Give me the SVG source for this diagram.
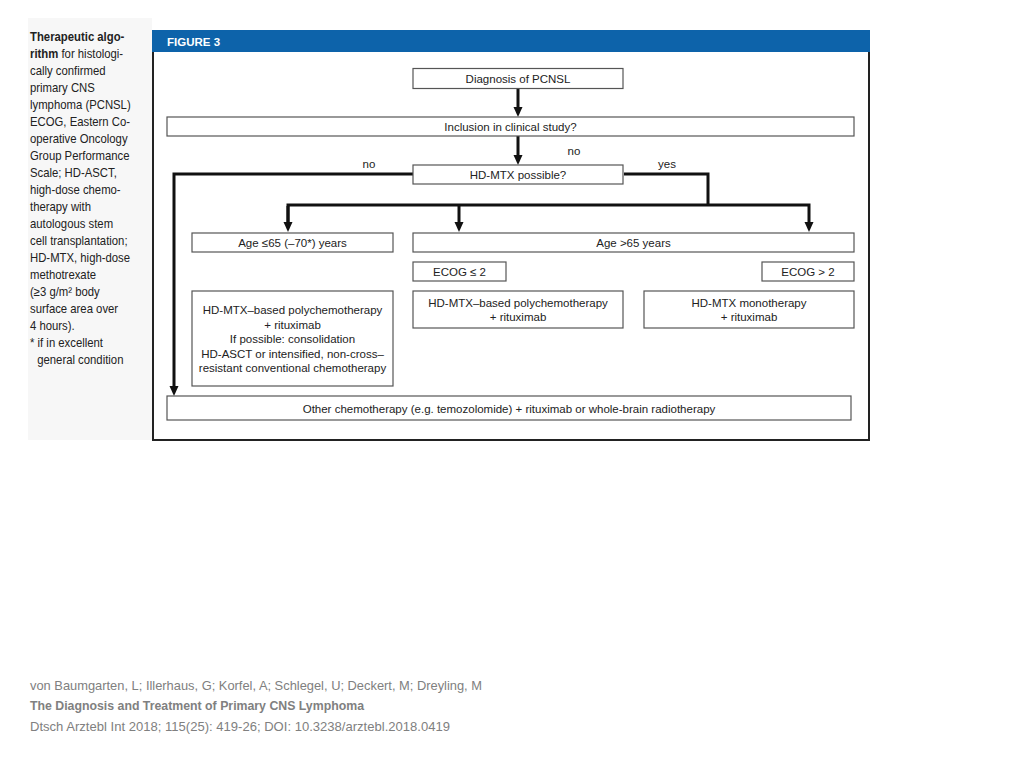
<svg xmlns="http://www.w3.org/2000/svg" width="1024" height="768" viewBox="0 0 1024 768">
<defs>
<style>
.box{fill:#fff;stroke:#555;stroke-width:1.2}
.t{font-family:"Liberation Sans",Arial,sans-serif;font-size:11.5px;fill:#222;text-anchor:middle}
.cap{font-family:"Liberation Sans",Arial,sans-serif;font-size:12.6px;fill:#222}
.con{fill:none;stroke:#111;stroke-width:3;stroke-linejoin:miter}
.foot{font-family:"Liberation Sans",Arial,sans-serif;font-size:13px;fill:#808080}
</style>
<marker id="ah" markerUnits="userSpaceOnUse" markerWidth="11" markerHeight="10" refX="0" refY="4.5" orient="auto" viewBox="0 0 11 10">
<path d="M0,0 L10,4.5 L0,9 z" fill="#111"/>
</marker>
</defs>
<rect x="0" y="0" width="1024" height="768" fill="#fff"/>
<rect x="28" y="18" width="124" height="422" fill="#f7f7f7"/>

<g id="caption" transform="translate(30,0) scale(0.9,1)">
<text class="cap" x="0" y="41" font-weight="bold">Therapeutic algo-</text>
<text class="cap" x="0" y="58"><tspan font-weight="bold">rithm</tspan> for histologi-</text>
<text class="cap" x="0" y="75">cally confirmed</text>
<text class="cap" x="0" y="92">primary CNS</text>
<text class="cap" x="0" y="109">lymphoma (PCNSL)</text>
<text class="cap" x="0" y="126">ECOG, Eastern Co-</text>
<text class="cap" x="0" y="143">operative Oncology</text>
<text class="cap" x="0" y="160">Group Performance</text>
<text class="cap" x="0" y="177">Scale; HD-ASCT,</text>
<text class="cap" x="0" y="194">high-dose chemo-</text>
<text class="cap" x="0" y="211">therapy with</text>
<text class="cap" x="0" y="228">autologous stem</text>
<text class="cap" x="0" y="245">cell transplantation;</text>
<text class="cap" x="0" y="262">HD-MTX, high-dose</text>
<text class="cap" x="0" y="279">methotrexate</text>
<text class="cap" x="0" y="296">(≥3 g/m² body</text>
<text class="cap" x="0" y="313">surface area over</text>
<text class="cap" x="0" y="330">4 hours).</text>
<text class="cap" x="0" y="347">* if in excellent</text>
<text class="cap" x="8" y="364">general condition</text>
</g>

<g id="frame">
<rect x="153" y="31" width="716" height="409" fill="#fff" stroke="#222" stroke-width="2"/>
<rect x="152" y="30" width="718" height="22" fill="#0d63aa"/>
<text x="167" y="46" font-family="'Liberation Sans',Arial,sans-serif" font-size="11.5" font-weight="bold" fill="#fff">FIGURE 3</text>
</g>

<g id="connectors">
<path class="con" d="M518,89 V107" marker-end="url(#ah)"/>
<path class="con" d="M518,136 V155" marker-end="url(#ah)"/>
<path class="con" d="M413,174 H174 V386" marker-end="url(#ah)"/>
<path class="con" d="M624,174 H708 V205"/>
<path class="con" d="M288,222 V205 H809 V222" marker-end="url(#ah)"/>
<path class="con" d="M288,206 V222" marker-end="url(#ah)"/>
<path class="con" d="M459,205 V222" marker-end="url(#ah)"/>
<text class="t" x="369" y="168">no</text>
<text class="t" x="574" y="155">no</text>
<text class="t" x="667" y="168">yes</text>
</g>

<g id="n-diagnosis">
<rect class="box" x="413" y="68.5" width="210" height="20"/>
<text class="t" x="518" y="83">Diagnosis of PCNSL</text>
</g>
<g id="n-inclusion">
<rect class="box" x="167" y="117" width="687" height="19"/>
<text class="t" x="510.5" y="131">Inclusion in clinical study?</text>
</g>
<g id="n-hdmtx">
<rect class="box" x="413" y="165" width="210" height="19"/>
<text class="t" x="518" y="179">HD-MTX possible?</text>
</g>
<g id="n-age-le65">
<rect class="box" x="192" y="233" width="201" height="19"/>
<text class="t" x="292.5" y="247">Age ≤65 (–70*) years</text>
</g>
<g id="n-age-gt65">
<rect class="box" x="413" y="233" width="441" height="19"/>
<text class="t" x="633.5" y="247">Age &gt;65 years</text>
</g>
<g id="n-ecog-le2">
<rect class="box" x="413" y="262" width="93" height="19"/>
<text class="t" x="459.5" y="276">ECOG ≤ 2</text>
</g>
<g id="n-ecog-gt2">
<rect class="box" x="762" y="262" width="92" height="19"/>
<text class="t" x="808" y="276">ECOG &gt; 2</text>
</g>
<g id="n-poly-left">
<rect class="box" x="192" y="291" width="201" height="95"/>
<text class="t" x="292.5" y="314">HD-MTX–based polychemotherapy</text>
<text class="t" x="292.5" y="328.5">+ rituximab</text>
<text class="t" x="292.5" y="343">If possible: consolidation</text>
<text class="t" x="292.5" y="357.5">HD-ASCT or intensified, non-cross–</text>
<text class="t" x="292.5" y="372">resistant conventional chemotherapy</text>
</g>
<g id="n-poly-mid">
<rect class="box" x="413" y="291" width="210" height="37"/>
<text class="t" x="518" y="307">HD-MTX–based polychemotherapy</text>
<text class="t" x="518" y="321">+ rituximab</text>
</g>
<g id="n-mono">
<rect class="box" x="644" y="291" width="210" height="37"/>
<text class="t" x="749" y="307">HD-MTX monotherapy</text>
<text class="t" x="749" y="321">+ rituximab</text>
</g>
<g id="n-other">
<rect class="box" x="167" y="396" width="684" height="24"/>
<text class="t" x="509" y="413">Other chemotherapy (e.g. temozolomide) + rituximab or whole-brain radiotherapy</text>
</g>

<g id="footer">
<text class="foot" x="30" y="690" textLength="452" lengthAdjust="spacingAndGlyphs">von Baumgarten, L; Illerhaus, G; Korfel, A; Schlegel, U; Deckert, M; Dreyling, M</text>
<text class="foot" x="30" y="710" font-weight="bold" textLength="334" lengthAdjust="spacingAndGlyphs">The Diagnosis and Treatment of Primary CNS Lymphoma</text>
<text class="foot" x="30" y="731" textLength="420" lengthAdjust="spacingAndGlyphs">Dtsch Arztebl Int 2018; 115(25): 419-26; DOI: 10.3238/arztebl.2018.0419</text>
</g>
</svg>
